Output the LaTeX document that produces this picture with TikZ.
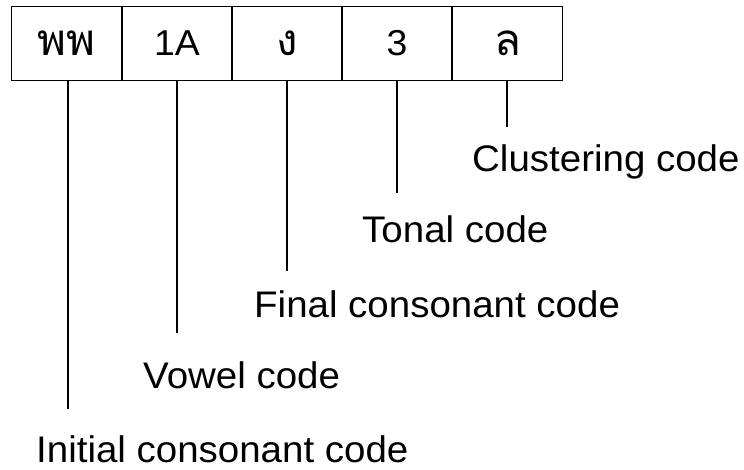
\documentclass[tikz,border=0pt]{standalone}
\usepackage{fontspec}
\setmainfont[FakeStretch=1.04]{Liberation Sans}
\newfontfamily\thaifont[Script=Thai,Scale=1.22]{Loma}
\begin{document}
\begin{tikzpicture}[x=1pt,y=-1pt,
  cell/.style={draw, line width=1.2pt, minimum width=110pt, minimum height=74pt,
    inner sep=0pt, font=\fontsize{36}{40}\selectfont},
  label/.style={anchor=base west, inner sep=0pt, font=\fontsize{37}{42}\selectfont},
  link/.style={line width=1.3pt}]
\useasboundingbox (0,0) rectangle (744,470);
% the five code fields
\node[cell] (c1) at (66.5,43.5) {\thaifont พพ};
\node[cell] (c2) at (177,43.5) {1A};
\node[cell] (c3) at (287,43.5) {\thaifont ง};
\node[cell] (c4) at (397,43.5) {3};
\node[cell] (c5) at (507.5,43.5) {\thaifont ล};
% captions
\node[label] (l1) at (36,462) {Initial consonant code};
\node[label] (l2) at (143,388) {Vowel code};
\node[label] (l3) at (254,317) {Final consonant code};
\node[label] (l4) at (362,243) {Tonal code};
\node[label] (l5) at (472,172) {Clustering code};
% ends of the leader lines
\coordinate (e1) at (68,409);
\coordinate (e2) at (177,333);
\coordinate (e3) at (287,271);
\coordinate (e4) at (397,193);
\coordinate (e5) at (507,127);
\draw[link] (c1.south -| e1) -- (e1);
\draw[link] (c2.south -| e2) -- (e2);
\draw[link] (c3.south -| e3) -- (e3);
\draw[link] (c4.south -| e4) -- (e4);
\draw[link] (c5.south -| e5) -- (e5);
\end{tikzpicture}
\end{document}
